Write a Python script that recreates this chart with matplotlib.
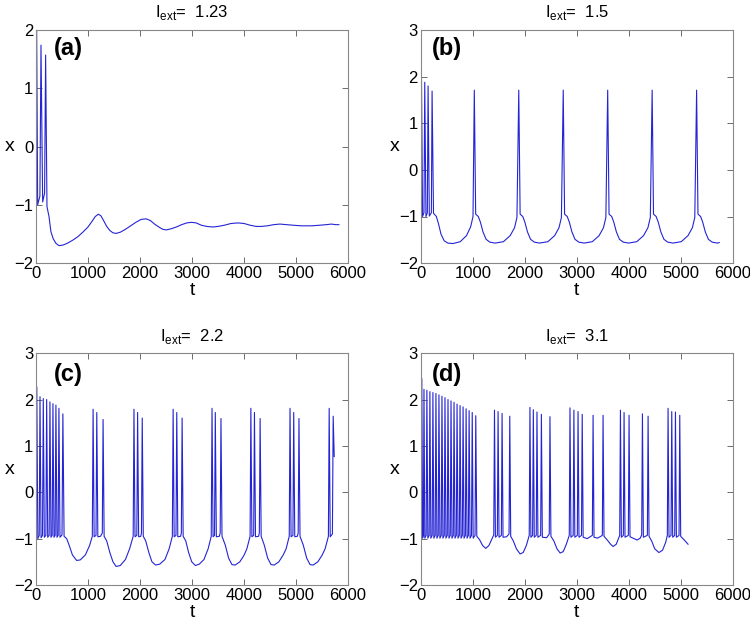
import matplotlib
matplotlib.use("Agg")
import matplotlib.pyplot as plt

plt.rcParams['font.family'] = ['Liberation Sans', 'DejaVu Sans']
plt.rcParams['mathtext.fontset'] = 'custom'
plt.rcParams['mathtext.rm'] = 'Liberation Sans'

# --- panel (a): I_ext = 1.23 ---
a_t = [0, 12, 32, 75, 96, 128, 165, 185, 211, 250, 287, 330, 383, 440, 520,
       600, 700, 800, 900, 1000, 1080, 1140, 1200, 1250, 1300, 1360, 1420,
       1480, 1541, 1620, 1720, 1820, 1920, 2020, 2120, 2200, 2280, 2380, 2440,
       2505, 2600, 2700, 2800, 2900, 2987, 3080, 3180, 3280, 3404, 3500, 3620,
       3750, 3886, 4000, 4120, 4230, 4335, 4450, 4570, 4690, 4820, 4950, 5100,
       5299, 5450, 5580, 5684, 5760, 5825]
a_x = [-0.3, 2.05, -1.00, -0.85, 1.74, -0.95, -0.80, 1.57, -1.03, -1.20,
       -1.46, -1.58, -1.66, -1.70, -1.69, -1.66, -1.61, -1.55, -1.47, -1.38,
       -1.28, -1.20, -1.16, -1.19, -1.27, -1.37, -1.44, -1.48, -1.49, -1.47,
       -1.42, -1.36, -1.30, -1.25, -1.24, -1.27, -1.33, -1.39, -1.42, -1.43,
       -1.41, -1.38, -1.34, -1.31, -1.30, -1.31, -1.35, -1.37, -1.38, -1.37,
       -1.35, -1.32, -1.31, -1.32, -1.35, -1.37, -1.37, -1.36, -1.34, -1.33,
       -1.34, -1.35, -1.36, -1.36, -1.35, -1.34, -1.33, -1.34, -1.34]

# --- panel (b): I_ext = 1.5 ---
b_spk_t = [13, 77, 141, 218, 1030, 1885, 2740, 3595, 4450, 5305]
b_spk_x = [2.07, 1.88, 1.80, 1.69, 1.71, 1.71, 1.71, 1.71, 1.71, 1.71]
b_low_t = [0, 35, 62, 100, 127, 165, 204,
           245, 300, 340, 390, 450, 520, 620, 760, 880, 960, 1005,
           1056, 1107, 1147, 1197, 1257, 1330, 1430, 1590, 1720, 1804, 1850,
           1911, 1962, 2002, 2052, 2112, 2185, 2285, 2445, 2575, 2659, 2705,
           2766, 2817, 2857, 2907, 2967, 3040, 3140, 3300, 3430, 3514, 3560,
           3621, 3672, 3712, 3762, 3822, 3895, 3995, 4155, 4285, 4369, 4415,
           4476, 4527, 4567, 4617, 4677, 4750, 4850, 5010, 5140, 5224, 5270,
           5331, 5382, 5422, 5472, 5532, 5605, 5705, 5740]
b_low_x = [0.6, -1.00, -0.92, -1.00, -0.92, -0.99, -0.92,
           -0.93, -1.00, -1.15, -1.38, -1.52, -1.57, -1.58, -1.54, -1.41, -1.22,
           -1.00,
           -0.95, -1.00, -1.12, -1.33, -1.49, -1.55, -1.57, -1.54, -1.41, -1.24,
           -1.02,
           -0.95, -1.00, -1.12, -1.33, -1.49, -1.55, -1.57, -1.54, -1.41, -1.24,
           -1.02,
           -0.95, -1.00, -1.12, -1.33, -1.49, -1.55, -1.57, -1.54, -1.41, -1.24,
           -1.02,
           -0.95, -1.00, -1.12, -1.33, -1.49, -1.55, -1.57, -1.54, -1.41, -1.24,
           -1.02,
           -0.95, -1.00, -1.12, -1.33, -1.49, -1.55, -1.57, -1.54, -1.41, -1.24,
           -1.02,
           -0.95, -1.00, -1.12, -1.33, -1.49, -1.55, -1.57, -1.56]

# --- panel (c): I_ext = 2.2 ---
c_spk_t = [15, 77, 140, 205, 268, 326, 383, 441, 517,
           1098, 1169, 1290, 1884, 1954, 2043, 2637, 2707, 2810,
           3385, 3448, 3557, 4132, 4201, 4310, 4885, 4956, 5057, 5638, 5715]
c_spk_x = [2.27, 2.06, 2.02, 2.00, 1.95, 1.91, 1.88, 1.81, 1.69,
           1.79, 1.72, 1.57, 1.79, 1.72, 1.60, 1.79, 1.72, 1.60,
           1.81, 1.72, 1.59, 1.81, 1.72, 1.59, 1.81, 1.72, 1.59, 1.81, 1.64]
c_low_t = [0, 35, 62, 97, 125, 160, 190, 225, 253, 288, 311, 346, 368, 403, 426,
           461, 500,
           540, 590, 640, 700, 780, 850, 950, 1030, 1083,
           1118, 1154, 1189, 1240, 1275,
           1310, 1360, 1420, 1480, 1540, 1620, 1720, 1800, 1869,
           1904, 1939, 1974, 2015, 2028,
           2063, 2110, 2170, 2230, 2300, 2380, 2480, 2560, 2622,
           2657, 2692, 2727, 2780, 2795,
           2830, 2880, 2935, 2995, 3065, 3140, 3230, 3310, 3370,
           3405, 3433, 3468, 3525, 3542,
           3577, 3640, 3704, 3768, 3830, 3920, 4000, 4055, 4117,
           4152, 4186, 4221, 4280, 4295,
           4330, 4390, 4455, 4520, 4580, 4670, 4750, 4810, 4870,
           4905, 4941, 4976, 5025, 5042,
           5077, 5140, 5205, 5270, 5330, 5420, 5500, 5560, 5623,
           5658, 5700, 5735]
c_low_x = [0.3, -1.00, -0.93, -0.98, -0.93, -0.97, -0.93, -0.97, -0.93, -0.97,
           -0.93, -0.97, -0.93, -0.97, -0.93, -0.97, -0.92,
           -0.95, -1.00, -1.15, -1.35, -1.47, -1.46, -1.35, -1.15, -0.95,
           -0.96, -0.93, -0.96, -0.95, -0.88,
           -0.95, -1.05, -1.30, -1.50, -1.60, -1.58, -1.45, -1.22, -0.95,
           -0.96, -0.93, -0.96, -0.95, -0.88,
           -0.95, -1.05, -1.30, -1.50, -1.57, -1.55, -1.45, -1.22, -0.95,
           -0.96, -0.93, -0.96, -0.95, -0.88,
           -0.95, -1.05, -1.30, -1.50, -1.58, -1.55, -1.45, -1.22, -0.95,
           -0.96, -0.93, -0.96, -0.95, -0.88,
           -0.95, -1.14, -1.42, -1.56, -1.57, -1.50, -1.36, -1.22, -0.95,
           -0.96, -0.93, -0.96, -0.95, -0.88,
           -0.95, -1.14, -1.42, -1.56, -1.57, -1.50, -1.36, -1.22, -0.95,
           -0.96, -0.93, -0.96, -0.95, -0.88,
           -0.95, -1.14, -1.42, -1.56, -1.57, -1.50, -1.36, -1.22, -0.95,
           -0.96, -0.90, 0.77]

# --- panel (d): I_ext = 3.1 ---
d_spk_t = [20, 62, 118, 176, 234, 292, 350, 408, 466, 524, 582, 640, 698, 756,
           814, 872, 930, 990, 1058,
           1418, 1487, 1564, 1712,
           2100, 2165, 2235, 2320, 2485,
           2870, 2945, 3025, 3105, 3314, 3506,
           3840, 3910, 4006, 4263, 4372,
           4756, 4827, 4898, 4981]
d_spk_x = [2.45, 2.22, 2.20, 2.17, 2.15, 2.13, 2.10, 2.07, 2.04, 2.00, 1.97,
           1.94, 1.90, 1.87, 1.84, 1.80, 1.76, 1.72, 1.65,
           1.77, 1.74, 1.70, 1.64,
           1.83, 1.78, 1.73, 1.68, 1.63,
           1.82, 1.77, 1.74, 1.68, 1.66, 1.66,
           1.77, 1.72, 1.66, 1.69, 1.64,
           1.81, 1.74, 1.73, 1.66]
d_low_t = [0, 36, 50, 78, 104, 136, 162, 194, 220, 252, 278, 310, 336, 368, 394,
           426, 452, 484, 510, 542, 568, 600, 626, 658, 684, 716, 742, 774, 800,
           832, 858, 890, 916, 948, 976, 1008, 1044,
           1078, 1130, 1190, 1250, 1310, 1370, 1404,
           1436, 1473, 1505, 1550, 1582, 1650, 1698,
           1730, 1780, 1840, 1910, 1970, 2030, 2086,
           2118, 2151, 2183, 2221, 2253, 2306, 2338, 2420, 2471,
           2503, 2560, 2620, 2680, 2740, 2800, 2856,
           2888, 2931, 2963, 3011, 3043, 3091, 3123, 3200, 3300, 3332, 3400,
           3492,
           3524, 3580, 3650, 3700, 3760, 3826,
           3858, 3896, 3928, 3992, 4024, 4100, 4160, 4220, 4249, 4281, 4358,
           4390, 4440, 4500, 4580, 4650, 4710, 4742,
           4774, 4813, 4845, 4884, 4916, 4967,
           4999, 5060, 5140]
d_low_x = [-0.5] + [-0.99, -0.93] * 18 + [
           -0.95, -1.02, -1.15, -1.21, -1.15, -1.00, -0.92,
           -0.97, -0.93, -0.97, -0.93, -0.97, -0.96, -0.90,
           -0.95, -1.05, -1.22, -1.33, -1.30, -1.15, -0.93,
           -0.97, -0.93, -0.97, -0.93, -0.97, -0.93, -0.97, -0.98, -0.90,
           -0.95, -1.05, -1.22, -1.31, -1.28, -1.12, -0.93,
           -0.97, -0.93, -0.97, -0.93, -0.97, -0.93, -0.97, -1.00, -0.93,
           -0.97, -0.99, -0.93,
           -0.95, -1.02, -1.12, -1.17, -1.12, -0.93,
           -0.97, -0.93, -0.97, -0.93, -0.96, -1.00, -1.03, -0.99, -0.92,
           -0.97, -0.93,
           -0.95, -1.05, -1.22, -1.30, -1.25, -1.08, -0.93,
           -0.97, -0.93, -0.97, -0.93, -0.97, -0.93,
           -0.95, -1.02, -1.12]

titles = ['1.23', '1.5', '2.2', '3.1']
tags = ['(a)', '(b)', '(c)', '(d)']


def merge(spk_t, spk_x, low_t, low_x):
    pts = sorted(zip(list(spk_t) + list(low_t), list(spk_x) + list(low_x)))
    return [p[0] for p in pts], [p[1] for p in pts]


series = [
    (a_t, a_x),
    merge(b_spk_t, b_spk_x, b_low_t, b_low_x),
    merge(c_spk_t, c_spk_x, c_low_t, c_low_x),
    merge(d_spk_t, d_spk_x, d_low_t, d_low_x),
]

fig = plt.figure(figsize=(7.5, 6.25), dpi=100)
boxes = [
    [0.048, 0.579, 0.416, 0.373],
    [0.561, 0.579, 0.416, 0.373],
    [0.048, 0.064, 0.416, 0.371],
    [0.561, 0.064, 0.416, 0.371],
]
tag_x = [0.058, 0.036, 0.058, 0.036]
tag_y = [0.97, 0.97, 0.957, 0.957]

for i, (t, x) in enumerate(series):
    ax = fig.add_axes(boxes[i])
    ax.plot(t, x, color='#2424d4', lw=0.8)
    ax.set_xlim(0, 6000)
    if i == 0:
        ax.set_ylim(-2, 2)
        ax.set_yticks([-2, -1, 0, 1, 2])
    else:
        ax.set_ylim(-2, 3)
        ax.set_yticks([-2, -1, 0, 1, 2, 3])
    ax.set_xticks(range(0, 6001, 1000))
    ax.tick_params(direction='in', top=True, right=True, length=4,
                   width=0.6, color='#555555', labelsize=12, pad=2)
    for sp in ax.spines.values():
        sp.set_color('#888888')
        sp.set_linewidth(0.8)
    ax.set_xlabel('t', fontsize=14)
    ax.set_ylabel('x', fontsize=14, rotation=0, ha='center', va='center')
    ax.xaxis.set_label_coords(0.5, -0.08)
    ax.yaxis.set_label_coords(-0.085, 0.5)
    ax.set_title(r'I$_{\mathrm{ext}}$=  ' + titles[i], fontsize=12, pad=9)
    ax.text(tag_x[i], tag_y[i], tags[i], transform=ax.transAxes,
            fontsize=17, fontweight='bold', va='top', ha='left')

fig.savefig('out.png', dpi=100)
